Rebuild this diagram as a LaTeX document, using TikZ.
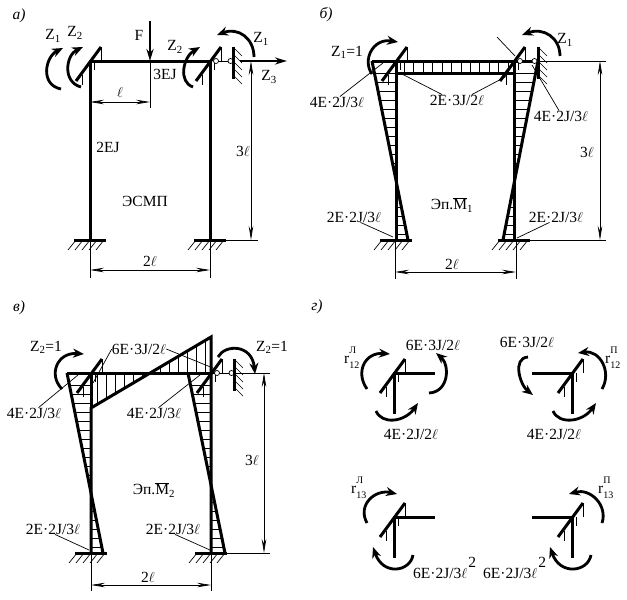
\documentclass[tikz,border=0pt]{standalone}
\usepackage{fontspec}
\setmainfont{Liberation Serif}
\usetikzlibrary{arrows.meta,calc}
\newcommand{\rsym}[2]{r\rlap{\raisebox{10pt}{\fontsize{10}{10}\selectfont #2}}\raisebox{-5pt}{\fontsize{10}{10}\selectfont #1}}
\newcommand{\epm}[1]{Эп.$\overline{\mbox{M}}$\textsubscript{#1}}
\tikzset{
    thickline/.style={line width=3pt},
    thinline/.style={line width=0.7pt},
    moment/.style={line width=2.8pt,-{Stealth[length=11pt,width=9pt]}},
    forcearrow/.style={line width=2.6pt,-{Stealth[length=12pt,width=7pt]}},
    dimline/.style={line width=0.7pt,{Stealth[length=14pt,width=4.5pt]}-{Stealth[length=14pt,width=4.5pt]}},
    txt/.style={font=\fontsize{15.5}{17}\selectfont,inner sep=0pt},
    pics/rigidjoint/.style={code={
        \draw[thickline] (-14,20) -- (11,-14);
        \draw[thinline] (11,-14) -- (11,0);
        \draw[thinline] (4,0) -- (4,9);
        \draw[thinline] (-8,14) -- (-8,24);
    }},
    pics/groundbase/.style={code={
        \draw[thickline] (-16,0) -- (16,0);
        \foreach \i in {-14,-7,...,14}
            \draw[thinline] (\i,0) -- ++(-8,10);
    }},
    pics/sidewall/.style={code={
        \draw[thickline] (0,-14) -- (0,18);
        \foreach \i in {-14,-7,...,15}
            \draw[thinline] (0,\i) -- ++(9,9);
    }},
    pics/hingelink/.style={code={
        \draw[thinline] (6,0) -- (20.5,0);
        \draw[thinline,fill=white] (6,0) circle (2.5);
        \draw[thinline,fill=white] (20.5,0) circle (2.5);
    }},
}
\begin{document}
\begin{tikzpicture}[x=1pt,y=-1pt]
    \useasboundingbox (0,0) rectangle (627,600);
    % panel a
    \coordinate (aTL) at (90,61);
    \coordinate (aTR) at (210,61);
    \coordinate (aBL) at (90,240);
    \coordinate (aBR) at (210,240);
    \coordinate (aEnd) at (287,61);
    \coordinate (aWall) at (233,61);
    \coordinate (aFtop) at (150,21);
    \coordinate (aFbot) at (150,61);
    \coordinate (aD1) at (90,102);
    \coordinate (aD2) at (150,102);
    \coordinate (aD3) at (90,270);
    \coordinate (aD4) at (210,270);
    \coordinate (aD5) at (251,61);
    \coordinate (aD6) at (251,240);
    \draw[thickline] (aTR) -- (aBR);
    \draw[thickline] (aBL) -- (aTL) -- (aTR);
    \draw[forcearrow] (aFtop) -- (aFbot);
    \draw[forcearrow] (240,61) -- (aEnd);
    \draw[thinline] (aFbot) -- (150,108);
    \draw[thinline] (aBL) -- (90,278);
    \draw[thinline] (aBR) -- (210,278);
    \draw[thinline] (aBR) -- (258,240);
    \draw[dimline] (aD1) -- (aD2);
    \draw[dimline] (aD3) -- (aD4);
    \draw[dimline] (aD5) -- (aD6);
    \pic at (aTL) {rigidjoint};
    \pic at (aTR) {rigidjoint};
    \pic at (aTR) {hingelink};
    \pic at (aWall) {sidewall};
    \pic at (aBL) {groundbase};
    \pic at (aBR) {groundbase};
    \draw[moment] (61,89) .. controls (40,85) and (45,57) .. (63,48);
    \draw[moment] (81,87) .. controls (62,82) and (66,55) .. (83,47);
    \draw[moment] (193,87) .. controls (178,82) and (183,57) .. (200,47);
    \draw[moment] (254,57) .. controls (254,38) and (238,27) .. (217,35);
    \node[txt] (aTitle) at (19,16) {\textit{а)}};
    \node[txt] (aZa) at (53,36) {Z\textsubscript{1}};
    \node[txt] (aZb) at (75,33) {Z\textsubscript{2}};
    \node[txt] (aF) at (139,35) {F};
    \node[txt] (aZc) at (175,47) {Z\textsubscript{2}};
    \node[txt] (aZd) at (261,39) {Z\textsubscript{1}};
    \node[txt] (aZe) at (269,77) {Z\textsubscript{3}};
    \node[txt] (aEJa) at (165,74) {3EJ};
    \node[txt] (aEJb) at (108,147) {2EJ};
    \node[txt] (aEsmp) at (145,201) {ЭСМП};
    \node[txt] (aLa) at (120,92) {$\ell$};
    \node[txt] (aLb) at (243,151) {3$\ell$};
    \node[txt] (aLc) at (150,261) {2$\ell$};

    % panel b
    \coordinate (bTL) at (396,61);
    \coordinate (bTR) at (514,61);
    \coordinate (bBL) at (396,240);
    \coordinate (bBR) at (514,240);
    \coordinate (bP1) at (372,61);
    \coordinate (bP2) at (408,240);
    \coordinate (bP3) at (538,61);
    \coordinate (bP4) at (503,240);
    \coordinate (bQ1) at (396,73);
    \coordinate (bQ2) at (514,73);
    \coordinate (bD1) at (395,272);
    \coordinate (bD2) at (516,272);
    \coordinate (bD3) at (600,61);
    \coordinate (bD4) at (600,240);
    \foreach \t in {0.07,0.12,...,0.97} {
        \draw[thinline] ($(bP1)!\t!(bP2)$) -- ($(bTL)!\t!(bBL)$);
        \draw[thinline] ($(bP3)!\t!(bP4)$) -- ($(bTR)!\t!(bBR)$);
    }
    \foreach \t in {0.07,0.15,...,0.95}
        \draw[thinline] ($(bTL)!\t!(bTR)$) -- ($(bQ1)!\t!(bQ2)$);
    \draw[thinline] (bP3) -- (606,61);
    \draw[thinline] (bBR) -- (606,240);
    \draw[thinline] (bD1) ++(0,-32) -- ++(0,39);
    \draw[thinline] (bD2) ++(0,-32) -- ++(0,39);
    \draw[dimline] (bD1) -- (bD2);
    \draw[dimline] (bD3) -- (bD4);
    \draw[thickline] (bBL) -- (bTL);
    \draw[thickline] (bBR) -- (bTR);
    \draw[thickline] (bP1) -- (bP3);
    \draw[thickline] (bQ1) -- (bQ2);
    \draw[thickline] (bP1) -- (bP2);
    \draw[thickline] (bP3) -- (bP4);
    \pic at (bTL) {rigidjoint};
    \pic at (bTR) {rigidjoint};
    \pic at (bTR) {hingelink};
    \pic at (bP3) {sidewall};
    \pic at (bBL) {groundbase};
    \pic at (bBR) {groundbase};
    \draw[moment] (372,74) .. controls (362,60) and (373,38) .. (398,42);
    \draw[moment] (560,56) .. controls (560,38) and (544,27) .. (522,35);
    \node[txt] (bTitle) at (326,15) {\textit{б)}};
    \node[txt] (bZa) at (347,52) {Z\textsubscript{1}=1};
    \node[txt] (bZb) at (565,40) {Z\textsubscript{1}};
    \node[txt] (bMa) at (337,102) {4E·2J/3$\ell$};
    \node[txt] (bMb) at (457,100) {2E·3J/2$\ell$};
    \node[txt] (bMc) at (561,116) {4E·2J/3$\ell$};
    \node[txt] (bMd) at (354,217) {2E·2J/3$\ell$};
    \node[txt] (bMe) at (556,217) {2E·2J/3$\ell$};
    \node[txt] (bEp) at (452,205) {\epm{1}};
    \node[txt] (bLa) at (587,152) {3$\ell$};
    \node[txt] (bLb) at (452,264) {2$\ell$};
    \coordinate (bA1) at (383,63);
    \coordinate (bA2) at (400,73);
    \coordinate (bA3) at (507,76);
    \coordinate (bA4) at (532,65);
    \coordinate (bA5) at (393,237);
    \coordinate (bA6) at (517,238);
    \coordinate (bA7) at (497,37);
    \coordinate (bA8) at (515,56);
    \draw[thinline] (bMa.62) -- (bA1);
    \draw[thinline] (bMb.160) -- (bA2);
    \draw[thinline] (bMb.20) -- (bA3);
    \draw[thinline] (bMc.110) -- (bA4);
    \draw[thinline] (bMd.-40) -- (bA5);
    \draw[thinline] (bMe.-140) -- (bA6);
    \draw[thinline] (bA7) -- (bA8);

    % panel c
    \coordinate (cTL) at (91,373);
    \coordinate (cTR) at (211,373);
    \coordinate (cBL) at (91,553);
    \coordinate (cBR) at (211,553);
    \coordinate (cP1) at (67,373);
    \coordinate (cP2) at (103,553);
    \coordinate (cP3) at (188,373);
    \coordinate (cP4) at (225,553);
    \coordinate (cQ1) at (91,408);
    \coordinate (cQ2) at (211,337);
    \coordinate (cD1) at (91,585);
    \coordinate (cD2) at (211,585);
    \coordinate (cD3) at (264,373);
    \coordinate (cD4) at (264,553);
    \coordinate (cWall) at (234,373);
    \foreach \t in {0.07,0.12,...,0.97} {
        \draw[thinline] ($(cP1)!\t!(cP2)$) -- ($(cTL)!\t!(cBL)$);
        \draw[thinline] ($(cP3)!\t!(cP4)$) -- ($(cTR)!\t!(cBR)$);
    }
    \foreach \t in {0.05,0.125,...,0.98}
        \draw[thinline] ($(cQ1)!\t!(cQ2)$) -- ($(cTL)!\t!(cTR)$);
    \draw[thinline] (cTR) -- (270,373);
    \draw[thinline] (cBR) -- (270,553);
    \draw[thinline] (cBL) -- (91,591);
    \draw[thinline] (cBR) -- (211,591);
    \draw[dimline] (cD1) -- (cD2);
    \draw[dimline] (cD3) -- (cD4);
    \draw[thickline] (cBL) -- (cQ1) -- (cQ2) -- (cBR);
    \draw[thickline] (cTL) -- (cQ1);
    \draw[thickline] (cP1) -- (cTR);
    \draw[thickline] (cP1) -- (cP2);
    \draw[thickline] (cP3) -- (cP4);
    \pic at (cTL) {rigidjoint};
    \pic at (cTR) {rigidjoint};
    \pic at (cTR) {hingelink};
    \pic at (cWall) {sidewall};
    \pic at (cBL) {groundbase};
    \pic at (cBR) {groundbase};
    \draw[moment] (62,389) .. controls (48,375) and (57,352) .. (84,354);
    \draw[moment] (218,357) .. controls (225,344) and (252,344) .. (255,374);
    \node[txt] (cTitle) at (19,308) {\textit{в)}};
    \node[txt] (cZa) at (46,347) {Z\textsubscript{2}=1};
    \node[txt] (cZb) at (272,347) {Z\textsubscript{2}=1};
    \node[txt] (cMa) at (139,349) {6E·3J/2$\ell$};
    \node[txt] (cMb) at (34,413) {4E·2J/3$\ell$};
    \node[txt] (cMc) at (154,413) {4E·2J/3$\ell$};
    \node[txt] (cMd) at (53,529) {2E·2J/3$\ell$};
    \node[txt] (cMe) at (173,529) {2E·2J/3$\ell$};
    \node[txt] (cEp) at (154,490) {\epm{2}};
    \node[txt] (cLa) at (252,460) {3$\ell$};
    \node[txt] (cLb) at (148,577) {2$\ell$};
    \coordinate (cA1) at (93,383);
    \coordinate (cA2) at (213,368);
    \coordinate (cA3) at (78,375);
    \coordinate (cA4) at (200,375);
    \coordinate (cA5) at (89,550);
    \coordinate (cA6) at (210,550);
    \draw[thinline] (cMa.west) -- (cA1);
    \draw[thinline] (cMa.east) -- (cA2);
    \draw[thinline] (cMb.50) -- (cA3);
    \draw[thinline] (cMc.50) -- (cA4);
    \draw[thinline] (cMd.-70) -- (cA5);
    \draw[thinline] (cMe.-70) -- (cA6);

    % panel d
    \node[txt] (dTitle) at (317,307) {\textit{г)}};
    \foreach \cx/\nm/\dy in {394/dA/373,572/dB/373,394/dC/517,572/dD/517} {
        \coordinate (\nm) at (\cx,\dy);
        \coordinate (\nm V) at (\cx,\dy+41);
        \draw[thickline] (\nm) -- (\nm V);
        \pic at (\nm) {rigidjoint};
    }
    \coordinate (dAe) at (435,373);
    \coordinate (dBe) at (532,373);
    \coordinate (dCe) at (435,517);
    \coordinate (dDe) at (532,517);
    \draw[thickline] (dA) -- (dAe);
    \draw[thickline] (dB) -- (dBe);
    \draw[thickline] (dC) -- (dCe);
    \draw[thickline] (dD) -- (dDe);
    \draw[moment] (367,389) .. controls (355,372) and (365,352) .. (390,354);
    \draw[moment] (429,393) .. controls (449,392) and (450,365) .. (436,353);
    \draw[moment] (376,411) .. controls (382,425) and (405,422) .. (418,403);
    \draw[moment] (528,357) .. controls (512,358) and (520,385) .. (533,395);
    \draw[moment] (602,389) .. controls (612,372) and (600,350) .. (578,353);
    \draw[moment] (553,411) .. controls (559,425) and (583,422) .. (596,403);
    \draw[moment] (367,523) .. controls (357,505) and (375,489) .. (397,494);
    \draw[moment] (413,555) .. controls (410,572) and (383,576) .. (373,547);
    \draw[moment] (602,523) .. controls (608,505) and (590,488) .. (569,494);
    \draw[moment] (591,555) .. controls (588,572) and (560,576) .. (550,547);
    \node[txt,anchor=base west] (dRa) at (344,363) {\rsym{12}{Л}};
    \node[txt,anchor=base west] (dRb) at (605,363) {\rsym{12}{П}};
    \node[txt,anchor=base west] (dRc) at (351,493) {\rsym{13}{Л}};
    \node[txt,anchor=base west] (dRd) at (598,493) {\rsym{13}{П}};
    \node[txt] (dMa) at (433,345) {6E·3J/2$\ell$};
    \node[txt] (dMb) at (527,342) {6E·3J/2$\ell$};
    \node[txt] (dMc) at (411,434) {4E·2J/2$\ell$};
    \node[txt] (dMd) at (554,434) {4E·2J/2$\ell$};
    \node[txt,anchor=base west] (dMe) at (413,578) {6E·2J/3$\ell$\hspace{1pt}\raisebox{11pt}{2}};
    \node[txt,anchor=base west] (dMf) at (483,578) {6E·2J/3$\ell$\hspace{1pt}\raisebox{11pt}{2}};
\end{tikzpicture}
\end{document}
